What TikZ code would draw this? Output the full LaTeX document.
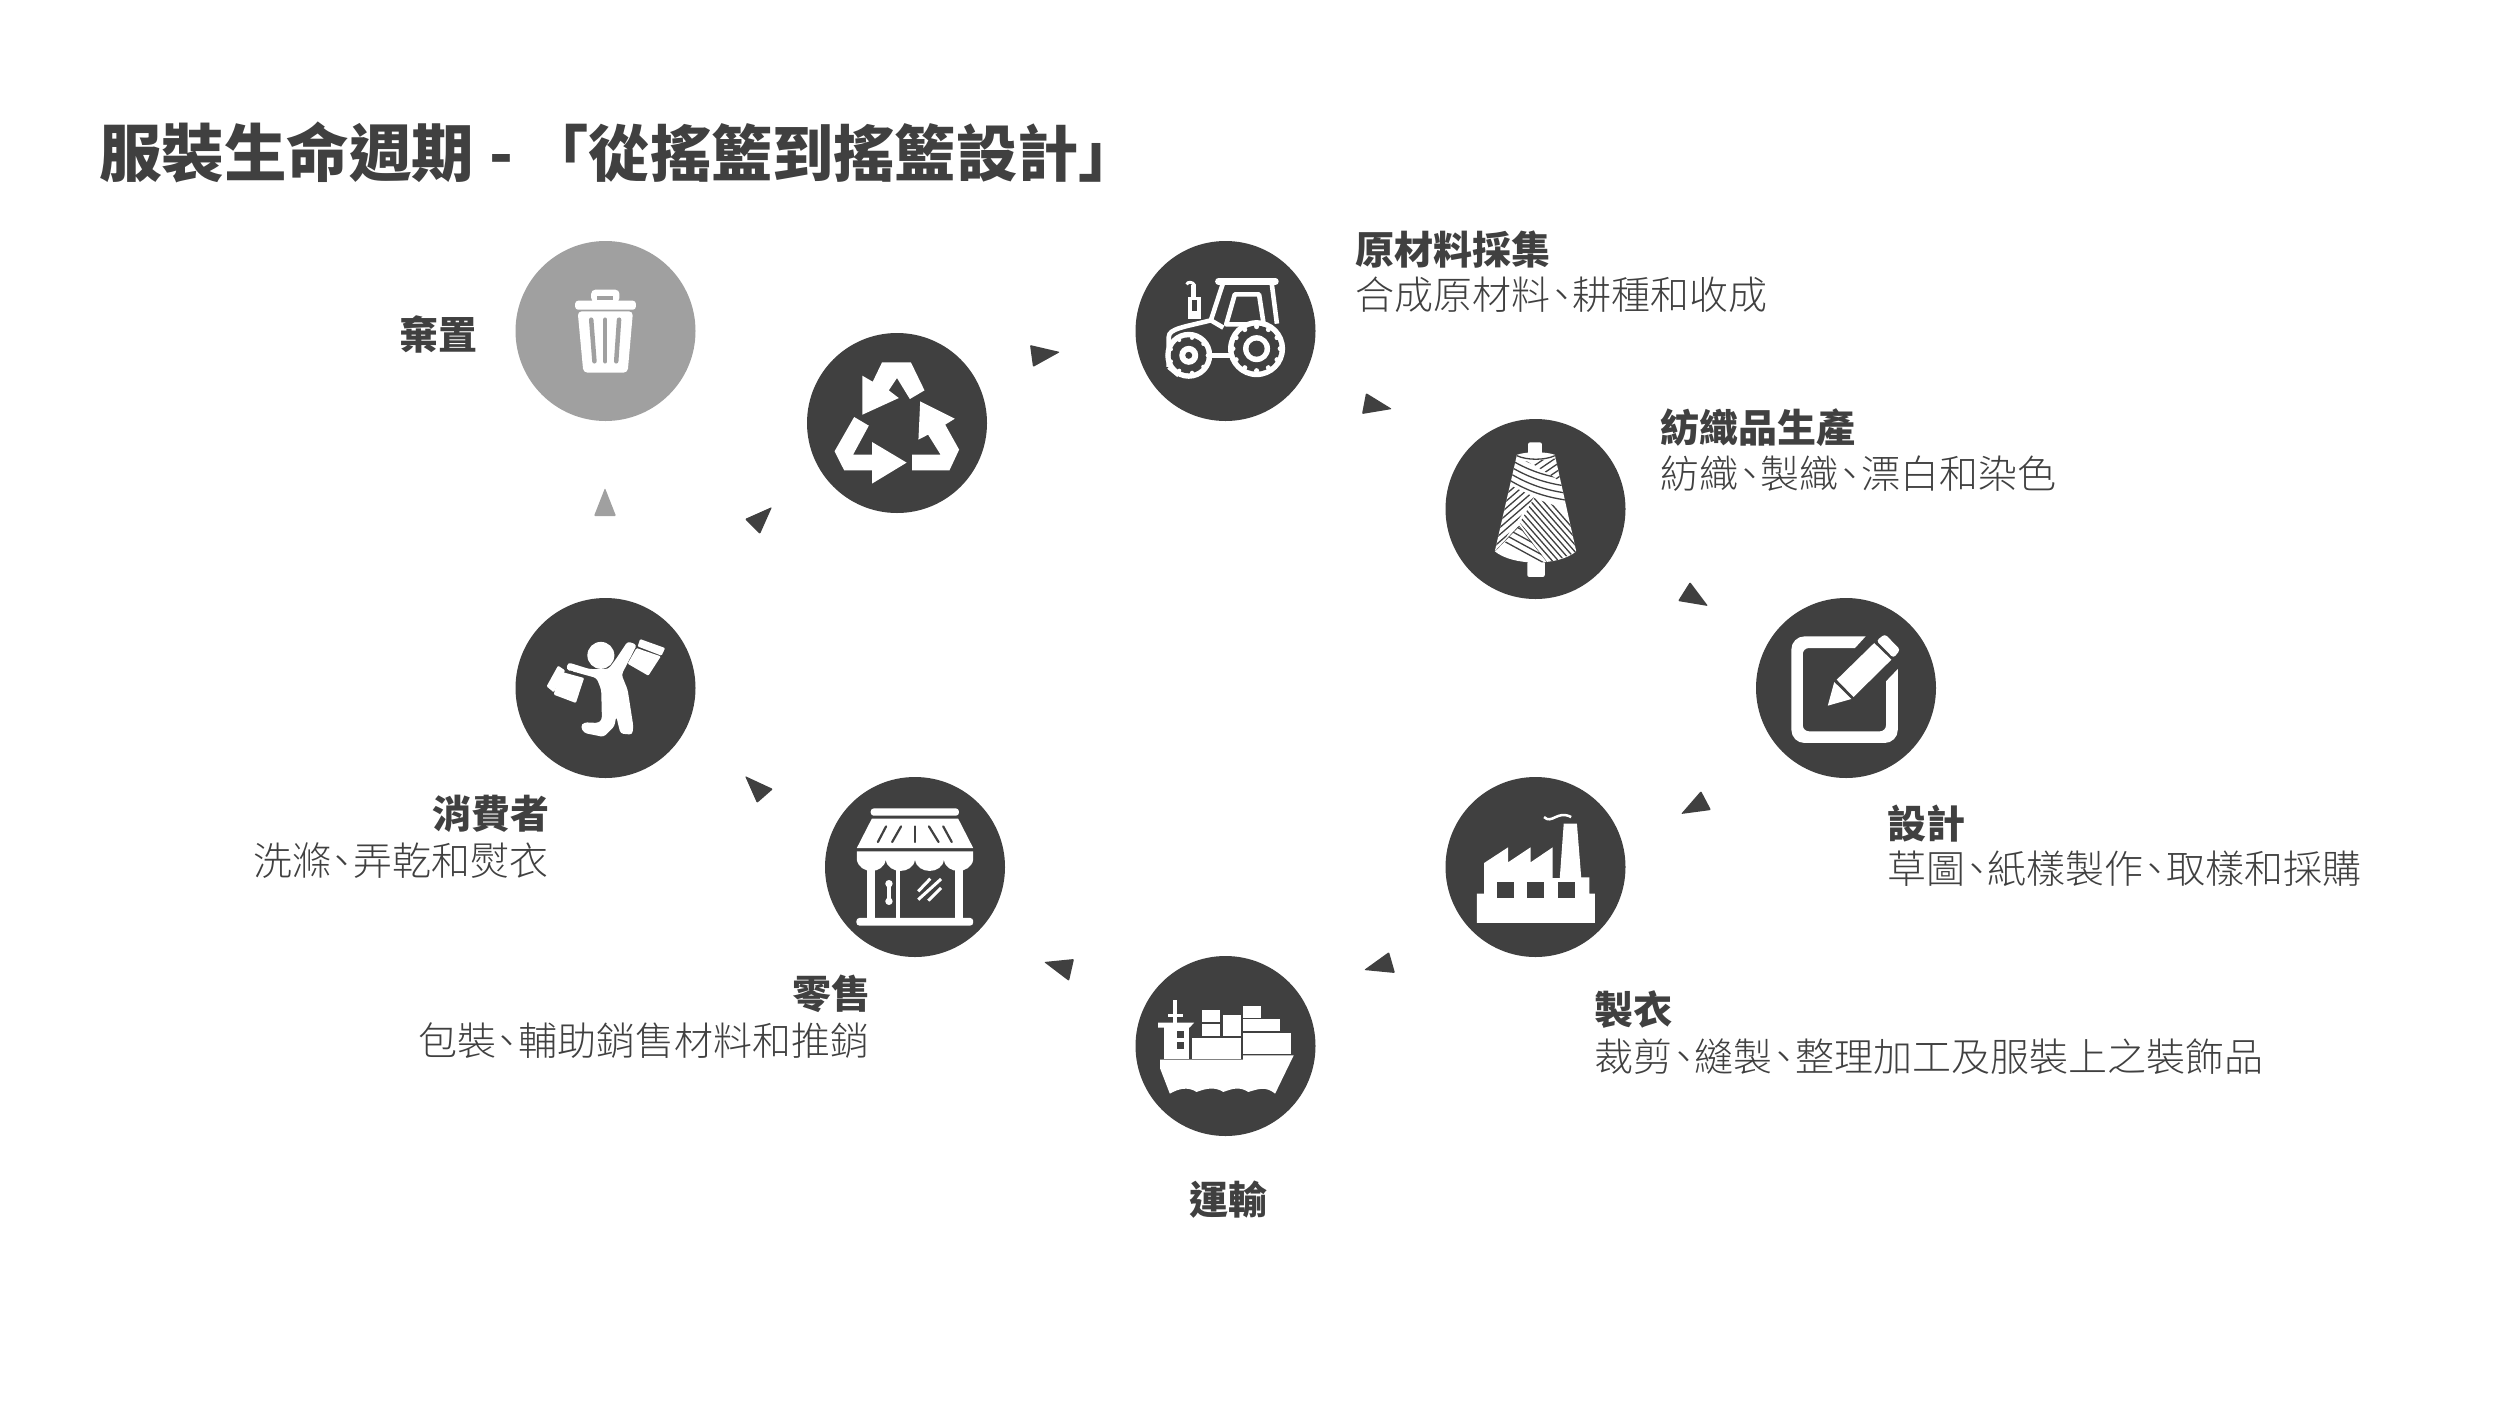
\documentclass[tikz,border=0pt]{standalone}
\usepackage{fontspec}
\setmainfont{Noto Sans CJK TC}
\newfontfamily\thinfont{Noto Sans CJK TC Light}
\newcommand{\titlefont}{\fontsize{62.5}{62.5}\selectfont\bfseries}
\newcommand{\headfont}{\fontsize{39}{39}\selectfont\bfseries}
\newcommand{\subfont}{\fontsize{39}{39}\selectfont\thinfont}
\newcommand{\dun}{\hspace{-0.21em}、\hspace{-0.21em}}

\begin{document}
\begin{tikzpicture}[x=1pt,y=-1pt,
    disc/.style={circle,fill=colDark,minimum size=180pt,inner sep=0pt},
    binDisc/.style={disc,fill=colGrey},
    headText/.style={font=\headfont,text=colDark,inner sep=0pt},
    subText/.style={font=\subfont,text=colDark,inner sep=0pt},
    tipDark/.style={fill=colDark,rounded corners=1pt},
    tipGrey/.style={fill=colGrey,rounded corners=1pt},
    zoomed/.style={x=0.357pt,y=-0.333pt},
    iconFill/.style={fill=white},
    iconCut/.style={fill=colDark},
    iconLine/.style={draw=white,line width=4.6pt},
    hatchLine/.style={draw=colDark,line width=1.3pt}]

% Colours
\definecolor{colDark}{HTML}{404040}
\definecolor{colGrey}{HTML}{A0A0A0}

\useasboundingbox (0,0) rectangle (2500,1406);

% Title
\node[anchor=west,font=\titlefont,text=colDark,inner sep=0pt] (title) at (99,152)
  {服裝生命週期\hspace{1pt} - \hspace{0pt}\fontsize{61.2}{61.2}\selectfont「從搖籃到搖籃設計」};

% Discs
\node[binDisc] (discBin) at (605.5,331) {};
\node[disc] (discCycle) at (897,423) {};
\node[disc] (discFarm) at (1225.5,331) {};
\node[disc] (discYarn) at (1535.5,509) {};
\node[disc] (discPen) at (1846,688) {};
\node[disc] (discPlant) at (1535.5,867) {};
\node[disc] (discShip) at (1225.5,1046) {};
\node[disc] (discShop) at (915,867) {};
\node[disc] (discBuyer) at (605.5,688) {};

% Labels
\node[headText,anchor=east] (headBin) at (478,334) {棄置};
\node[headText,anchor=west] (headFarm) at (1355,250) {原材料採集};
\node[subText,anchor=west] (subFarm) at (1355,295) {合成原材料\dun 耕種和收成};
\node[headText,anchor=west] (headYarn) at (1660,428) {紡織品生產};
\node[subText,anchor=west] (subYarn) at (1660,474) {紡織\dun 製織\dun 漂白和染色};
\node[headText,anchor=west] (headPen) at (1887,824) {設計};
\node[subText,anchor=west] (subPen) at (1887,869) {草圖\dun 紙樣製作\dun 取樣和採購};
\node[headText,anchor=west] (headPlant) at (1594,1010) {製衣};
\node[subText,anchor=west] (subPlant) at (1594,1057) {裁剪\dun 縫製\dun 整理加工及服裝上之裝飾品};
\node[headText] (headShip) at (1228,1200) {運輸};
\node[headText,anchor=east] (headShop) at (871,994) {零售};
\node[subText,anchor=east] (subShop) at (870,1041) {包裝\dun 輔助銷售材料和推銷};
\node[headText,anchor=east] (headBuyer) at (550,814) {消費者};
\node[subText,anchor=east] (subBuyer) at (549,861) {洗滌\dun 弄乾和熨衣};

% Arrow marks
\fill[tipGrey] (605,488) -- (594,516) -- (616,516) -- cycle;
\fill[tipDark] (772,507) -- (745,519) -- (760,534) -- cycle;
\fill[tipDark] (1060,352) -- (1030,345) -- (1033,367) -- cycle;
\fill[tipDark] (1392,409) -- (1366,393) -- (1362,414) -- cycle;
\fill[tipDark] (1690,582) -- (1708,606) -- (1678,601) -- cycle;
\fill[tipDark] (1701,791) -- (1711,810) -- (1681,814) -- cycle;
\fill[tipDark] (1389,952) -- (1395,973) -- (1364,970) -- cycle;
\fill[tipDark] (1044,962) -- (1074,959) -- (1069,981) -- cycle;
\fill[tipDark] (745,776) -- (773,789) -- (757,803) -- cycle;

% Bin
\begin{scope}[shift={(discBin)},zoomed,shift={(-295,-332)}]
\fill[iconFill,rounded corners=3pt] (210,241) rectangle (380,268);
\fill[iconFill,rounded corners=4pt] (255,245) rectangle (334,208);
\fill[fill=colGrey] (272,228) rectangle (316,240);
\fill[iconFill,rounded corners=4pt] (217,273) -- (372,273) -- (357,457) -- (233,457) -- cycle;
\draw[colGrey,line width=4.5pt,line cap=round] (255,298) -- (264,423);
\draw[colGrey,line width=4.5pt,line cap=round] (294,298) -- (294,423);
\draw[colGrey,line width=4.5pt,line cap=round] (333,298) -- (325,423);
\end{scope}

% Recycling arrows
\begin{scope}[shift={(discCycle)},zoomed,shift={(-1113,-610)}]
\fill[iconFill] (1071,428) -- (1152,428) -- (1190,512) -- (1149,538) -- (1113,475) -- (1090,512) -- (1118,535) -- (1016,585) -- (1016,468) -- (1045,486) -- cycle;
\fill[iconFill] (1178,545) -- (1275,597) -- (1248,615) -- (1287,690) -- (1260,752) -- (1155,752) -- (1155,705) -- (1235,705) -- (1200,645) -- (1173,660) -- cycle;
\fill[iconFill] (993,592) -- (1034,618) -- (990,705) -- (1043,705) -- (1043,667) -- (1140,729) -- (1043,792) -- (1043,752) -- (965,752) -- (938,695) -- cycle;
\end{scope}

% Tractor
\begin{scope}[shift={(discFarm)},zoomed,shift={(-296,-332)}]
\draw[iconLine,line width=6.5pt,line cap=round] (276,183) -- (436,183);
\draw[iconLine] (290,185) -- (255,300);
\draw[iconLine] (425,185) -- (440,310);
\draw[iconLine,line join=round] (322,222) -- (390,222) -- (403,312) -- (298,312) -- cycle;
\draw[iconLine] (137,440) -- (137,350) .. controls (137,325) and (180,320) .. (255,300) -- (290,322);
\draw[iconLine] (137,440) -- (165,465);
\draw[iconLine] (250,405) -- (315,405);
\fill[iconFill] (190,230) rectangle (228,295);
\fill[iconCut] (203,240) rectangle (217,272);
\fill[iconFill] (198,195) rectangle (213,230);
\draw[iconLine,line width=3pt] (187,192) .. controls (190,183) and (205,183) .. (210,196);
% big wheel
\fill[iconFill] (383,385) circle (28.5pt);
\fill[iconCut] (383,385) circle (23pt);
\foreach \a in {0,30,...,330}
  \fill[iconFill] (383,385) ++(\a:66) circle (2.5pt);
\fill[iconFill] (383,385) circle (13.5pt);
\fill[iconCut] (383,385) circle (8pt);
% small wheel
\fill[iconFill] (193,405) circle (23.5pt);
\fill[iconCut] (193,405) circle (18pt);
\foreach \a in {0,40,...,320}
  \fill[iconFill] (193,405) ++(\a:53) circle (2pt);
\fill[iconFill] (193,405) circle (9.5pt);
\fill[iconCut] (193,405) circle (3.5pt);
\end{scope}

% Yarn cone
\begin{scope}[shift={(discYarn)},zoomed,shift={(-1164,-868)}]
\fill[iconFill,rounded corners=2pt] (1143,668) rectangle (1182,712);
\fill[iconFill,rounded corners=2pt] (1141,1025) rectangle (1190,1072);
\fill[iconFill] (1112,705) .. controls (1140,695) and (1190,695) .. (1218,705) -- (1278,995) .. controls (1230,1040) and (1100,1040) .. (1050,995) -- cycle;
\draw[hatchLine] (1112,708) .. controls (1140,722) and (1190,722) .. (1218,708);
\begin{scope}
\clip (1112,705) -- (1218,705) -- (1278,995) .. controls (1230,1040) and (1100,1040) .. (1050,995) -- cycle;
% upper bands
\begin{scope}
\clip (1095,725) -- (1140,725) -- (1260,800) -- (1260,860) -- (1160,830) -- (1085,790) -- cycle;
\foreach \d in {0,21,...,147}
  \draw[hatchLine] (1080,\d+690) .. controls (1140,\d+730) and (1190,\d+750) .. (1270,\d+760);
\end{scope}
\begin{scope}
\clip (1145,725) -- (1230,715) -- (1240,790) -- cycle;
\foreach \d in {0,21,...,147}
  \draw[hatchLine] (1130,\d+760) -- ++(110,-80);
\end{scope}
% left side
\begin{scope}
\clip (1085,792) -- (1160,832) -- (1060,985) -- (1045,985) -- cycle;
\foreach \d in {0,21,...,210}
  \draw[hatchLine] (1040,\d+820) -- ++(140,-130);
\end{scope}
% lower right
\begin{scope}
\clip (1160,835) -- (1262,875) -- (1285,995) -- (1205,1030) -- (1120,910) -- cycle;
\foreach \d in {0,21,...,231}
  \draw[hatchLine] (1100,\d+720) -- ++(180,220);
\end{scope}
% bottom left
\begin{scope}
\clip (1050,995) -- (1118,918) -- (1200,1032) -- (1100,1032) -- cycle;
\foreach \d in {0,21,...,147}
  \draw[hatchLine] (1200,\d+890) -- ++(-120,-70);
\draw[hatchLine] (1050,993) -- (1118,918) -- (1200,1030);
\end{scope}
\end{scope}
\end{scope}

% Pen and pad
\begin{scope}[shift={(discPen)},zoomed,shift={(-1193,-325)}]
\fill[iconFill] (1248,170) [rounded corners=13pt] -- (1040,170) -- (1040,490) -- (1338,490) [sharp corners] -- (1338,268) -- (1305,305) [rounded corners=6pt] -- (1305,455) -- (1072,455) -- (1072,205) [sharp corners] -- (1218,205) -- cycle;
\fill[iconFill] (1142,378) -- (1160,307) -- (1208,358) -- cycle;
\fill[iconFill] (1167,300) -- (1272,190) -- (1320,240) -- (1214,352) -- cycle;
\fill[iconFill,rounded corners=3pt] (1278,183) -- (1302,163) -- (1345,210) -- (1326,235) -- cycle;
\end{scope}

% Factory
\begin{scope}[shift={(discPlant)},zoomed,shift={(-324,-862)}]
\fill[iconFill] (160,1030) -- (490,1030) -- (490,942) -- (475,942) -- (475,893) -- (452,893) -- (440,732) -- (403,732) -- (392,895) -- (372,895) -- (372,803) -- (310,848) -- (310,803) -- (247,848) -- (247,803) -- (180,850) -- (180,942) -- (160,942) -- cycle;
\fill[iconCut] (215,908) rectangle (263,956);
\fill[iconCut] (300,908) rectangle (348,956);
\fill[iconCut] (386,908) rectangle (434,956);
\draw[iconLine,line width=2.5pt] (348,712) .. controls (370,735) and (385,690) .. (424,712);
\end{scope}

% Container ship
\begin{scope}[shift={(discShip)},zoomed,shift={(-631,-857)}]
\fill[iconFill] (448,898) -- (680,898) -- (680,885) -- (822,885) -- (770,1000) .. controls (745,978) and (725,985) .. (695,995) .. controls (670,978) and (650,985) .. (625,995) .. controls (600,978) and (575,985) .. (550,995) .. controls (525,978) and (500,985) .. (475,1000) -- (448,925) -- cycle;
\fill[iconFill] (460,800) rectangle (528,895);
\fill[iconFill] (442,787) -- (543,787) -- (530,802) -- (442,802) -- cycle;
\fill[iconFill] (484,718) rectangle (496,787);
\fill[iconFill] (470,760) rectangle (512,770);
\fill[iconCut] (495,812) rectangle (515,833);
\fill[iconCut] (495,845) rectangle (515,865);
\fill[iconFill] (538,832) rectangle (675,895);
\fill[iconFill] (566,790) rectangle (616,826);
\fill[iconFill] (566,750) rectangle (616,786);
\fill[iconFill] (624,765) rectangle (674,826);
\fill[iconFill] (680,737) rectangle (730,772);
\fill[iconFill] (680,777) rectangle (783,812);
\fill[iconFill] (680,817) rectangle (815,880);
\end{scope}

% Shop
\begin{scope}[shift={(discShop)},zoomed,shift={(-1219,-862)}]
\fill[iconFill,rounded corners=3pt] (1095,686) rectangle (1342,708);
\fill[iconFill] (1098,717) -- (1340,717) -- (1382,805) -- (1056,805) -- cycle;
\foreach \xa/\xb in {1138/1115,1180/1155,1219/1219,1258/1285,1298/1322}
  \draw[colDark,line width=2.2pt,line cap=round] (\xa,740) -- (\xb,787);
\fill[iconFill] (1056,815) -- (1382,815) -- (1382,840) .. controls (1375,885) and (1305,885) .. (1300,840) .. controls (1295,885) and (1225,885) .. (1219,840) .. controls (1213,885) and (1143,885) .. (1137,840) .. controls (1131,885) and (1063,885) .. (1056,840) -- cycle;
\fill[iconFill] (1085,850) rectangle (1108,1020);
\fill[iconFill] (1167,855) rectangle (1178,1020);
\fill[iconFill] (1330,850) rectangle (1353,1020);
\fill[iconFill,rounded corners=3pt] (1055,1015) rectangle (1382,1038);
\draw[iconLine,line width=3.5pt] (1146,915) -- (1146,965);
\fill[iconFill] (1146,912) circle (3.7pt);
\fill[iconFill] (1146,965) circle (3.7pt);
\draw[iconLine,line width=3pt] (1228,935) -- (1262,897);
\draw[iconLine,line width=3pt] (1228,960) -- (1292,898);
\draw[iconLine,line width=3pt] (1256,963) -- (1292,925);
\end{scope}

% Shopper
\begin{scope}[shift={(discBuyer)},zoomed,shift={(-350,-325)}]
\fill[iconFill] (337,227) circle (13.5pt);
\fill[iconFill,rounded corners=3pt] (245,248) -- (305,268) -- (358,268) -- (378,240) -- (412,185) -- (438,195) -- (395,285) -- (412,330) -- (428,440) -- (425,465) -- (392,462) -- (380,410) -- (375,440) -- (345,472) -- (290,460) -- (280,440) -- (290,428) -- (330,430) -- (340,420) -- (338,330) -- (325,295) -- (240,270) -- cycle;
\fill[iconFill,rounded corners=1pt] (217,258) -- (185,320) -- (205,338) -- (237,272) -- cycle;
\fill[iconFill,rounded corners=1pt] (222,275) -- (290,295) -- (267,370) -- (205,345) -- cycle;
\fill[iconFill,rounded corners=1pt] (447,178) -- (517,205) -- (507,228) -- (440,200) -- cycle;
\fill[iconFill,rounded corners=1pt] (437,205) -- (505,230) -- (470,288) -- (412,252) -- cycle;
\draw[colDark,line width=1pt,dashed] (235,268) -- (280,285);
\end{scope}

\end{tikzpicture}
\end{document}
